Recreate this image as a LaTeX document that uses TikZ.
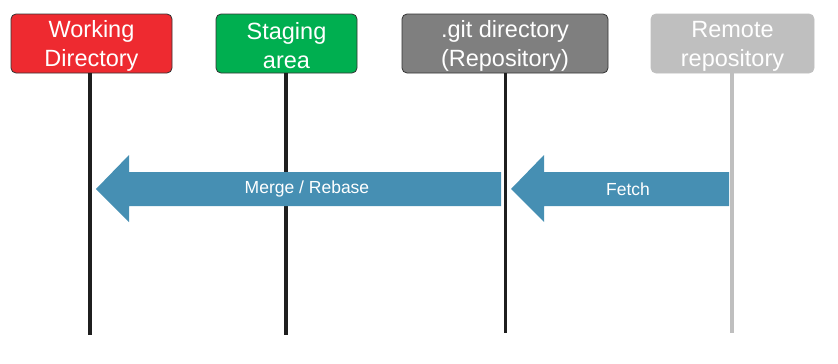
\documentclass[tikz,border=0pt]{standalone}
\usepackage{fontspec}
\setmainfont{Liberation Sans}
\newcommand{\toppad}{\rule{0pt}{21.5pt}}
\begin{document}
\begin{tikzpicture}[x=1pt,y=-1pt,
  stage/.style={draw=black!80,line width=0.8pt,rounded corners=5pt,text=white,
    minimum height=59pt,inner sep=0pt,align=center,
    font=\fontsize{23.5}{29}\selectfont},
  lifeline/.style={line width=3.2pt,draw=black!88},
  flow/.style={fill=arrowblue},
  flowlabel/.style={text=white,font=\fontsize{17.5}{20}\selectfont,inner sep=0pt}]
\definecolor{wdred}{HTML}{EE2A30}
\definecolor{stgreen}{HTML}{00AF50}
\definecolor{gitgray}{HTML}{7F7F7F}
\definecolor{remgray}{HTML}{BFBFBF}
\definecolor{arrowblue}{HTML}{468FB3}
\useasboundingbox (0,0) rectangle (838,364);

% stage boxes
\node[stage,fill=wdred,minimum width=161pt] (wd) at (91.5,43.5) {\toppad Working\\Directory};
\node[stage,fill=stgreen,minimum width=141pt] (st) at (286.5,43.5) {\toppad Staging\\area};
\node[stage,fill=gitgray,minimum width=206pt] (git) at (505,43.5) {\toppad .git directory\\(Repository)};
\node[stage,fill=remgray,draw=remgray,minimum width=163pt] (rem) at (732.5,43.5) {\toppad Remote\\repository};

% lifeline ends
\coordinate (wdE) at (90,335);
\coordinate (stE) at (286,335);
\coordinate (gitE) at (505.5,333);
\coordinate (remE) at (732,333);

\draw[lifeline] (wdE |- wd.south) -- (wdE);
\draw[lifeline] (stE |- st.south) -- (stE);
\draw[lifeline] (gitE |- git.south) -- (gitE);
\draw[lifeline,draw=remgray] (remE |- rem.south) -- (remE);

% merge / rebase arrow
\coordinate (mTail) at (501,189);
\coordinate (mTip) at (96,189);
\fill[flow] (mTail) ++(0,-17) -- (129,172) -- (129,155) -- (mTip) -- (129,222)
  -- (129,206) -- (501,206) -- cycle;
\node[flowlabel] (mLab) at (307,189) {Merge / Rebase};

% fetch arrow
\coordinate (fTail) at (729,189);
\coordinate (fTip) at (511,189);
\fill[flow] (fTail) ++(0,-17) -- (544,172) -- (544,155) -- (fTip) -- (544,222)
  -- (544,206) -- (729,206) -- cycle;
\node[flowlabel] (fLab) at (628,189) {Fetch};
\end{tikzpicture}
\end{document}
